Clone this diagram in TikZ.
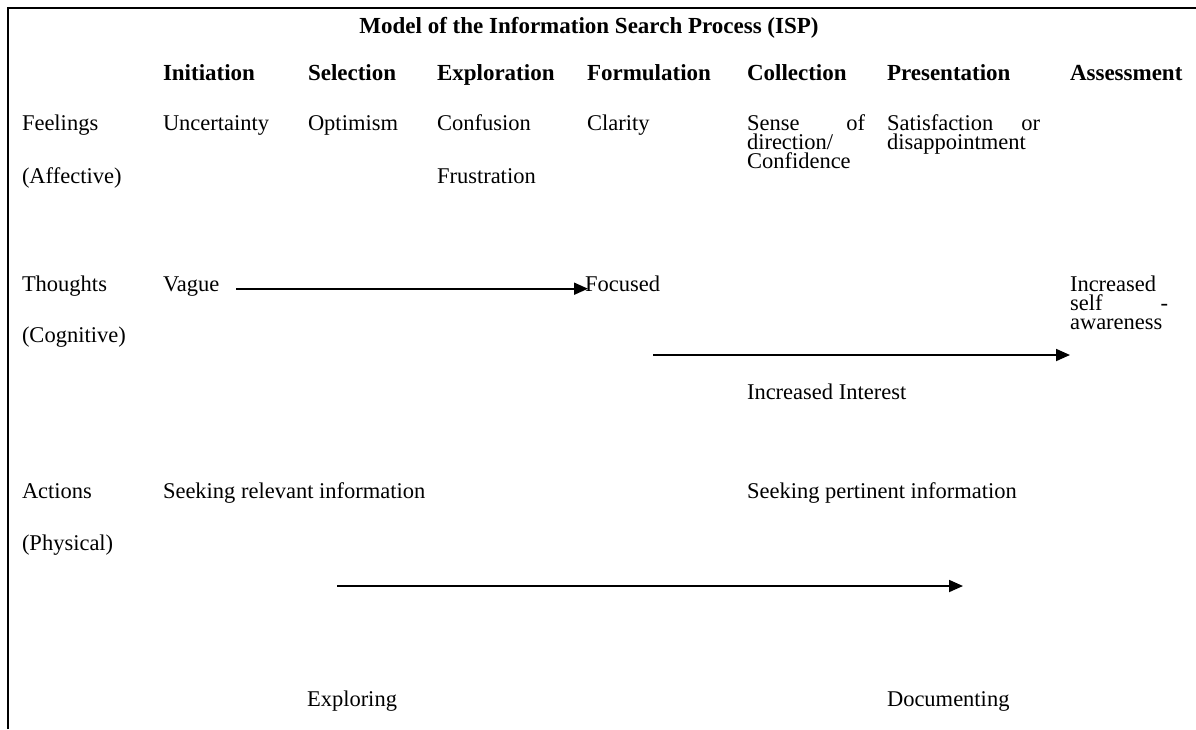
\documentclass[tikz,border=0pt]{standalone}
\usepackage{fontspec}
\setmainfont{Liberation Serif}
\usetikzlibrary{arrows.meta}
\newcommand{\stack}[1]{\vtop{\lineskiplimit=-100pt\baselineskip=19pt\halign{##\hfil\cr#1\crcr}}}
\begin{document}
\begin{tikzpicture}[x=1pt,y=-1pt,
  txt/.style={anchor=base west,inner sep=0pt,outer sep=0pt,font=\fontsize{22.5}{19}\selectfont},
  hdr/.style={txt,font=\fontsize{23}{19}\selectfont\bfseries},
  arr/.style={line width=1.8pt,-{Triangle[length=14pt,width=12pt]}},
  frame/.style={line width=2pt}]
\useasboundingbox (0,0) rectangle (1196,729);
\draw[frame] (8,729) -- (8,8) -- (1196,8);
\node[hdr,anchor=base] (title) at (589,33) {Model of the Information Search Process (ISP)};
% headers
\node[hdr] (h1) at (163,80) {Initiation};
\node[hdr] (h2) at (308,80) {Selection};
\node[hdr] (h3) at (437,80) {Exploration};
\node[hdr] (h4) at (587,80) {Formulation};
\node[hdr] (h5) at (747,80) {Collection};
\node[hdr] (h6) at (887,80) {Presentation};
\node[hdr] (h7) at (1070,80) {Assessment};
% row labels
\node[txt] (feel) at (22,130) {Feelings};
\node[txt] (aff) at (22,183) {(Affective)};
\node[txt] (thou) at (22,291) {Thoughts};
\node[txt] (cog) at (22,342) {(Cognitive)};
\node[txt] (act) at (22,498) {Actions};
\node[txt] (phys) at (22,550) {(Physical)};
% feelings
\node[txt] (unc) at (163,130) {Uncertainty};
\node[txt] (opt) at (308,130) {Optimism};
\node[txt] (conf) at (437,130) {Confusion};
\node[txt] (frus) at (437,183) {Frustration};
\node[txt] (clar) at (587,130) {Clarity};
\node[txt] (sense) at (747,130) {\stack{\makebox[118pt][l]{Sense\hfill of}\cr direction/\cr Confidence}};
\node[txt] (satis) at (887,130) {\stack{\makebox[153pt][l]{Satisfaction\hfill or}\cr disappointment}};
% thoughts
\node[txt] (vague) at (163,291) {Vague};
\node[txt] (focus) at (585,291) {Focused};
\node[txt] (incself) at (1070,291) {\stack{Increased\cr\makebox[98pt][l]{self\hfill -}\cr awareness}};
\node[txt] (intr) at (747,399) {Increased Interest};
% actions
\node[txt] (seekrel) at (163,498) {Seeking relevant information};
\node[txt] (seekper) at (747,498) {Seeking pertinent information};
\node[txt] (expl) at (307,706) {Exploring};
\node[txt] (docu) at (887,706) {Documenting};
% arrows
\draw[arr,shorten <=17pt,shorten >=-3pt] (vague.mid east) -- (focus.mid west);
\coordinate (i1) at (653,355);
\draw[arr] (i1) -- (incself.west |- i1);
\coordinate (e1) at (337,586);
\coordinate (e2) at (963,586);
\draw[arr] (e1) -- (e2);
\end{tikzpicture}
\end{document}
